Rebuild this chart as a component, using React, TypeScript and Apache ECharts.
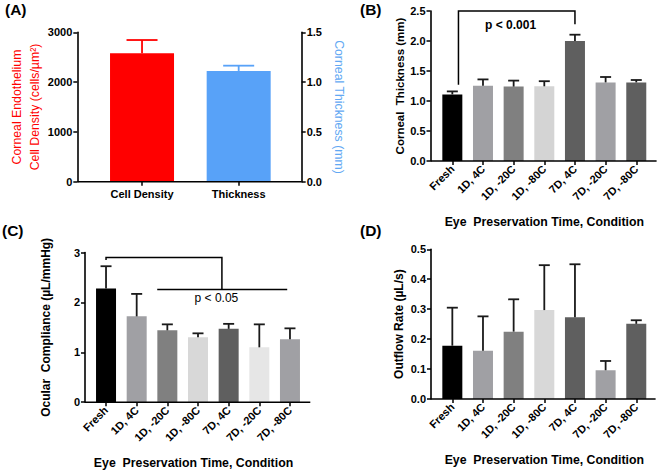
import React, { useEffect, useRef } from "react";
import * as echarts from "echarts";

// ---------- data ----------
const categoriesA = ["Cell Density", "Thickness"];
const cellDensityMean = 2580;
const cellDensitySD = 265;
const thicknessAMean = 1.112;
const thicknessASD = 0.053;

const conditions = ["Fresh", "1D, 4C", "1D, -20C", "1D, -80C", "7D, 4C", "7D, -20C", "7D, -80C"];

const thicknessMean = [1.11, 1.255, 1.24, 1.245, 2.0, 1.31, 1.31];
const thicknessSD = [0.05, 0.105, 0.1, 0.085, 0.105, 0.09, 0.04];
const thicknessColors = ["#000000", "#a0a0a4", "#808080", "#d4d4d4", "#5f5f5f", "#a0a0a4", "#5f5f5f"];

const complianceMean = [2.28, 1.72, 1.44, 1.3, 1.47, 1.1, 1.26];
const complianceSD = [0.445, 0.45, 0.12, 0.08, 0.1, 0.46, 0.22];
const complianceColors = ["#000000", "#a0a0a4", "#808080", "#d8d8d8", "#5f5f5f", "#e6e6e6", "#a0a0a4"];

const outflowMean = [0.178, 0.161, 0.225, 0.297, 0.273, 0.096, 0.251];
const outflowSD = [0.127, 0.115, 0.108, 0.15, 0.177, 0.031, 0.012];
const outflowColors = ["#000000", "#a0a0a4", "#808080", "#d8d8d8", "#5f5f5f", "#a0a0a4", "#5f5f5f"];

const ticksA_left = [0, 3000, 1000];
const ticksA_right = [0, 1.5, 0.5];
const ticksB = [0, 2.5, 0.5];
const ticksC = [0, 3, 1];
const ticksD = [0, 0.5, 0.1];

// significance brackets: [category position, value]
const bracketBPath = [[0.2, 1.27], [0.2, 2.5], [4, 2.5], [4, 2.28]];
const pLabelB = "p < 0.001";
const pLabelBPos = [1.9, 2.27];
const bracketCUpper = [[0, 2.85], [0, 2.9], [3.78, 2.9], [3.78, 2.26]];
const bracketCLower = [[1.67, 2.26], [5.91, 2.26]];
const pLabelC = "p < 0.05";
const pLabelCPos = [3.6, 2.08];

// ---------- layout ----------
const FONT = '"Liberation Sans", Arial, Helvetica, sans-serif';
const GA = { left: 93.7, top: 32.3, width: 193.3, height: 149.4, offL: 16.4, offR: 14.7 };
const GB = { left: 437, top: 11, width: 214.6, height: 150, offL: 6.5, extR: 5 };
const GC = { left: 90.7, top: 252.5, width: 214.6, height: 149.7, offL: 5.7, extR: 5 };
const GD = { left: 437, top: 249.3, width: 214.6, height: 149.7, offL: 6, extR: 4 };

const RED = "#ff0000";
const BLUE = "#58a2f8";
const BLUE_TEXT = "#62a8f3";
const ERR = "#1a1a1a";

function catCoord(api: any, c: number, v: number) {
  const a = api.coord([0, v]);
  const b = api.coord([1, v]);
  return [a[0] + (b[0] - a[0]) * c, a[1]];
}

function errorSeries(xi: number, yi: number, items: number[][], color: string, capHalf: number) {
  return {
    type: "custom",
    xAxisIndex: xi,
    yAxisIndex: yi,
    z: 5,
    clip: false,
    encode: { x: 0, y: 1 },
    data: items,
    renderItem: (_p: any, api: any) => {
      const i = api.value(0);
      const m = api.value(1);
      const s = api.value(2);
      const p0 = api.coord([i, m]);
      const p1 = api.coord([i, m + s]);
      const st = { stroke: color, lineWidth: 1.8 };
      return {
        type: "group",
        children: [
          { type: "line", shape: { x1: p0[0], y1: p0[1], x2: p1[0], y2: p1[1] }, style: st },
          { type: "line", shape: { x1: p1[0] - capHalf, y1: p1[1], x2: p1[0] + capHalf, y2: p1[1] }, style: st },
        ],
      };
    },
  };
}

function bracketSeries(xi: number, yi: number, paths: number[][][], label: string, labelPos: number[], bold: boolean) {
  return {
    type: "custom",
    xAxisIndex: xi,
    yAxisIndex: yi,
    z: 6,
    clip: false,
    encode: { x: 0, y: 1 },
    data: [[0, 0]],
    renderItem: (_p: any, api: any) => {
      const children: any[] = paths.map((pts) => ({
        type: "polyline",
        shape: { points: pts.map((p) => catCoord(api, p[0], p[1])) },
        style: { stroke: "#000", fill: null, lineWidth: 1.5 },
      }));
      const lp = catCoord(api, labelPos[0], labelPos[1]);
      children.push({
        type: "text",
        style: {
          text: label,
          x: lp[0],
          y: lp[1],
          align: "center",
          verticalAlign: "middle",
          fill: "#000",
          fontSize: 12,
          fontWeight: bold ? "bold" : "normal",
          fontFamily: FONT,
        },
      });
      return { type: "group", children };
    },
  };
}

function barSeries(xi: number, yi: number, values: any[], colors: string[], width: number) {
  return {
    type: "bar",
    xAxisIndex: xi,
    yAxisIndex: yi,
    barWidth: width,
    barGap: "-100%",
    data: values.map((v, i) => ({ value: v, itemStyle: { color: colors[i] } })),
  };
}

const labelStyle = { color: "#000", fontSize: 11, fontWeight: "bold", fontFamily: FONT };
const axisLineStyle = { color: "#000", width: 1.6 };

function xAxisCat(gridIndex: number, data: string[], rotate: number, name: string, namePad: number[] = [0, 0, 0, 0]) {
  return {
    type: "category",
    gridIndex,
    data,
    axisLine: { show: false },
    axisTick: { show: true, alignWithLabel: true, length: 4, lineStyle: { color: "#000", width: 1.5 } },
    axisLabel: { ...labelStyle, interval: 0, rotate, margin: rotate ? 6 : 7 },
    splitLine: { show: false },
    name,
    nameLocation: "middle",
    nameGap: 55,
    nameTextStyle: { color: "#000", fontSize: 12.3, fontWeight: "bold", fontFamily: FONT, padding: namePad },
  };
}

function yAxisVal(gridIndex: number, ticks: number[], offset: number, digits: number, name: string, nameGap: number, nameStyle: any, extra: any = {}) {
  return {
    type: "value",
    gridIndex,
    min: ticks[0],
    max: ticks[1],
    interval: ticks[2],
    offset,
    axisLine: { show: true, lineStyle: axisLineStyle },
    axisTick: { show: true, length: 4, lineStyle: { color: "#000", width: 1.5 } },
    axisLabel: { ...labelStyle, margin: 5, formatter: (v: number) => v.toFixed(digits) },
    splitLine: { show: false },
    name,
    nameLocation: "middle",
    nameGap,
    nameTextStyle: nameStyle,
    ...extra,
  };
}

function xLine(g: any, extR: number) {
  const y = g.top + g.height;
  return {
    type: "line",
    shape: { x1: g.left - g.offL, y1: y, x2: g.left + g.width + extR, y2: y },
    style: { stroke: "#000", lineWidth: 1.6 },
    z: 10,
  };
}

function panelLetter(text: string, x: number, y: number) {
  return {
    type: "text",
    left: x,
    top: y,
    style: { text, fill: "#000", fontSize: 15.5, fontWeight: "bold", fontFamily: FONT },
  };
}

export default function App() {
  const ref = useRef<HTMLDivElement>(null);
  useEffect(() => {
    if (!ref.current) return;
    const chart = echarts.init(ref.current, undefined, { renderer: "svg" });
    const option: any = {
      animation: false,
      backgroundColor: "#fff",
      textStyle: { fontFamily: FONT },
      grid: [
        { left: GA.left, top: GA.top, width: GA.width, height: GA.height },
        { left: GB.left, top: GB.top, width: GB.width, height: GB.height },
        { left: GC.left, top: GC.top, width: GC.width, height: GC.height },
        { left: GD.left, top: GD.top, width: GD.width, height: GD.height },
      ],
      xAxis: [
        xAxisCat(0, categoriesA, 0, ""),
        xAxisCat(1, conditions, 45, "Eye  Preservation Time, Condition"),
        xAxisCat(2, conditions, 45, "Eye  Preservation Time, Condition", [0, 9, 0, 0]),
        xAxisCat(3, conditions, 45, "Eye  Preservation Time, Condition"),
      ],
      yAxis: [
        yAxisVal(0, ticksA_left, GA.offL, 0, "Corneal Endothelium\nCell Density (cells/µm²)", 31, {
          color: RED, fontSize: 12.3, lineHeight: 18, fontFamily: FONT,
        }),
        yAxisVal(0, ticksA_right, GA.offR, 1, "Corneal Thickness (mm)", 31, {
          color: BLUE_TEXT, fontSize: 12.3, lineHeight: 13, fontFamily: FONT,
        }, { position: "right", nameRotate: -90 }),
        yAxisVal(1, ticksB, GB.offL, 1, "Corneal  Thickness (mm)", 25, {
          color: "#000", fontSize: 11.5, fontWeight: "bold", lineHeight: 12, fontFamily: FONT,
        }),
        yAxisVal(2, ticksC, GC.offL, 0, "Ocular  Compliance (µL/mmHg)", 33, {
          color: "#000", fontSize: 12, fontWeight: "bold", lineHeight: 13, fontFamily: FONT,
        }),
        yAxisVal(3, ticksD, GD.offL, 1, "Outflow Rate (µL/s)", 26, {
          color: "#000", fontSize: 12, fontWeight: "bold", lineHeight: 13, fontFamily: FONT,
        }),
      ],
      series: [
        barSeries(0, 0, [cellDensityMean, "-"], [RED, RED], 64),
        barSeries(0, 1, ["-", thicknessAMean], [BLUE, BLUE], 64),
        errorSeries(0, 0, [[0, cellDensityMean, cellDensitySD]], RED, 15.5),
        errorSeries(0, 1, [[1, thicknessAMean, thicknessASD]], BLUE, 15.5),

        barSeries(1, 2, thicknessMean, thicknessColors, 20),
        errorSeries(1, 2, thicknessMean.map((m, i) => [i, m, thicknessSD[i]]), ERR, 5.5),
        bracketSeries(1, 2, [bracketBPath], pLabelB, pLabelBPos, true),

        barSeries(2, 3, complianceMean, complianceColors, 20),
        errorSeries(2, 3, complianceMean.map((m, i) => [i, m, complianceSD[i]]), ERR, 5.5),
        bracketSeries(2, 3, [bracketCUpper, bracketCLower], pLabelC, pLabelCPos, false),

        barSeries(3, 4, outflowMean, outflowColors, 20),
        errorSeries(3, 4, outflowMean.map((m, i) => [i, m, outflowSD[i]]), ERR, 5.5),
      ],
      graphic: [
        xLine(GA, GA.offR),
        xLine(GB, GB.extR),
        xLine(GC, GC.extR),
        xLine(GD, GD.extR),
        panelLetter("(A)", 5, 1),
        panelLetter("(B)", 360, 1),
        panelLetter("(C)", 2, 222),
        panelLetter("(D)", 360, 222),
      ],
    };
    chart.setOption(option);
    return () => chart.dispose();
  }, []);
  return (
    <div
      ref={ref}
      style={{ position: "fixed", left: 0, top: 0, width: 658, height: 471, background: "#fff" }}
    />
  );
}
